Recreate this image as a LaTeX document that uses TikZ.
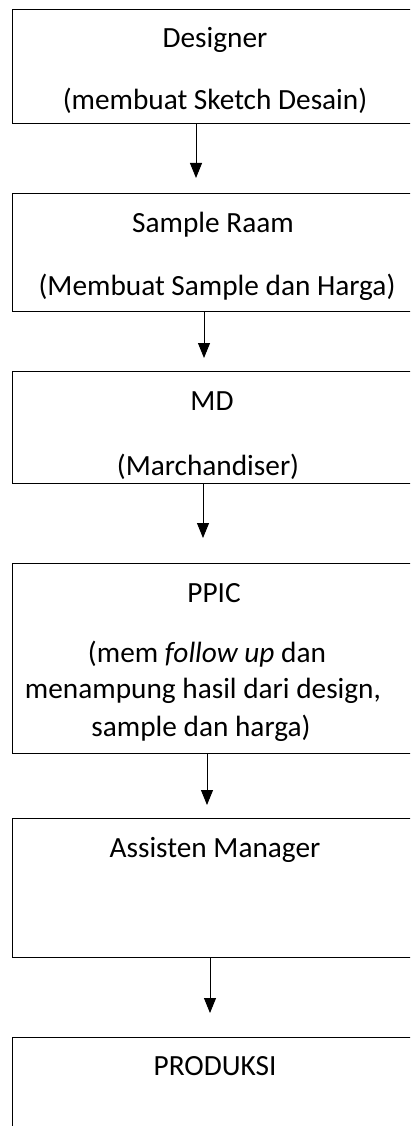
\documentclass[tikz,border=0pt]{standalone}
\usepackage{fontspec}
\setmainfont{Carlito}
\usetikzlibrary{arrows.meta}
\tikzset{
  stage/.style={draw=black,line width=0.9pt,minimum width=406pt,anchor=north west,inner sep=0pt},
  lbl/.style={anchor=base,font=\fontsize{29.3}{36}\selectfont,inner sep=0pt},
  flow/.style={-{Triangle[width=12pt,length=15pt]},line width=0.9pt}
}

\begin{document}
\begin{tikzpicture}[x=1pt,y=1pt]
  \useasboundingbox (0,0) rectangle (410,-1126);
  \clip (0,0) rectangle (410,-1126);
  % stage boxes, right side runs off the page
  \node[stage,minimum height=114pt] (designer) at (12,-9) {};
  \node[stage,minimum height=118pt] (sample) at (12,-193) {};
  \node[stage,minimum height=112pt] (md) at (12,-371) {};
  \node[stage,minimum height=190pt] (ppic) at (12,-563) {};
  \node[stage,minimum height=139pt] (asman) at (12,-818) {};
  \node[stage,minimum height=123pt] (produksi) at (12,-1037) {};
  % texts
  \node[lbl] (designer-t) at (215,-48) {Designer};
  \node[lbl] (designer-d) at (215,-110) {(membuat Sketch Desain)};
  \node[lbl] (sample-t) at (213,-232) {Sample Raam};
  \node[lbl] (sample-d) at (217,-295) {(Membuat Sample dan Harga)};
  \node[lbl] (md-t) at (212,-410) {MD};
  \node[lbl] (md-d) at (208,-475) {(Marchandiser)};
  \node[lbl] (ppic-t) at (214,-602) {PPIC};
  \node[lbl] (ppic-d1) at (207,-662) {(mem \textit{follow up} dan};
  \node[lbl] (ppic-d2) at (203,-698) {menampung hasil dari design,};
  \node[lbl] (ppic-d3) at (201,-736) {sample dan harga)};
  \node[lbl] (asman-t) at (215,-857) {Assisten Manager};
  \node[lbl] (produksi-t) at (215,-1075) {PRODUKSI};
  % arrows between stages
  \foreach \from/\to/\ax/\gap in {designer/sample/196/15, sample/md/204/13,
      md/ppic/203/25, ppic/asman/207/13, asman/produksi/210/24} {
    \draw[flow,shorten >=\gap pt] (\from.south -| \ax,0) -- (\to.north -| \ax,0);
  }
\end{tikzpicture}
\end{document}
